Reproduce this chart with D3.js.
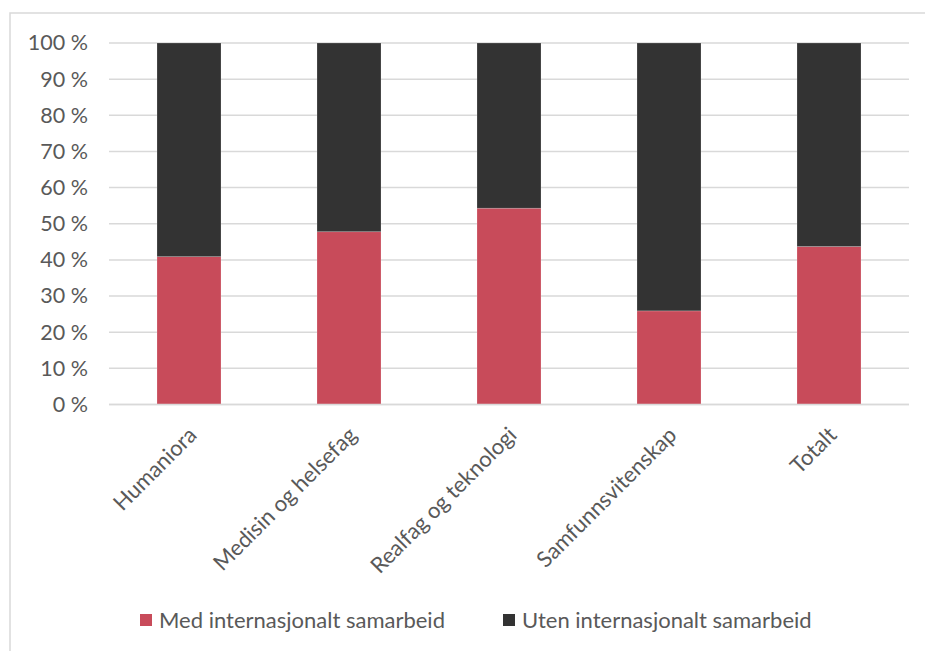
<!DOCTYPE html>
<html>
<head>
<meta charset="utf-8">
<script src="https://cdn.jsdelivr.net/npm/d3@7"></script>
<style>
  html, body { margin: 0; padding: 0; background: #fff; }
  svg { display: block; font-family: Lato, "Open Sans", sans-serif; }
</style>
</head>
<body>
<svg id="chart" width="925" height="651"></svg>
<script>
// Share of publications with / without international collaboration, by field
const categories = ["Humaniora", "Medisin og helsefag", "Realfag og teknologi", "Samfunnsvitenskap", "Totalt"];
const medInternasjonalt = [40.9, 47.8, 54.3, 25.9, 43.7];
const utenInternasjonalt = medInternasjonalt.map(v => 100 - v);
const seriesNames = ["Med internasjonalt samarbeid", "Uten internasjonalt samarbeid"];
const seriesColors = ["#C84B5A", "#333333"];
const yTicks = [0, 10, 20, 30, 40, 50, 60, 70, 80, 90, 100];

const svg = d3.select("#chart");
const textColor = "#595959";
const fontSize = "22px";

// Chart frame
svg.append("rect")
  .attr("x", 10).attr("y", 13)
  .attr("width", 930).attr("height", 660)
  .attr("fill", "none")
  .attr("stroke", "#D9D9D9")
  .attr("stroke-width", 1.5);

const plot = { left: 109, right: 909, top: 43, bottom: 404.5 };

const x = d3.scaleBand()
  .domain(categories)
  .range([plot.left, plot.right])
  .paddingInner(0.6)
  .paddingOuter(0.3);

const y = d3.scaleLinear()
  .domain([0, 100])
  .range([plot.bottom, plot.top]);

// Horizontal gridlines
svg.append("g")
  .selectAll("line")
  .data(yTicks)
  .join("line")
  .attr("x1", plot.left).attr("x2", plot.right)
  .attr("y1", d => y(d)).attr("y2", d => y(d))
  .attr("stroke", "#D9D9D9")
  .attr("stroke-width", 1.5);

// Y axis labels
const yAxis = d3.axisLeft(y)
  .tickValues(yTicks)
  .tickSize(0)
  .tickPadding(0)
  .tickFormat(d => d + "\u00A0%");
svg.append("g")
  .attr("transform", `translate(${plot.left - 21},0)`)
  .call(yAxis)
  .call(g => g.select(".domain").remove())
  .call(g => g.selectAll("text")
    .attr("fill", textColor)
    .style("font-size", "21.5px")
    .style("font-family", "Lato, sans-serif"));

// Stacked bars
const rows = categories.map((c, i) => ({
  category: c,
  med: medInternasjonalt[i],
  uten: utenInternasjonalt[i]
}));
const stack = d3.stack().keys(["med", "uten"]);
const layers = stack(rows);

svg.append("g")
  .selectAll("g")
  .data(layers)
  .join("g")
  .attr("fill", (d, i) => seriesColors[i])
  .selectAll("rect")
  .data(d => d)
  .join("rect")
  .attr("x", d => x(d.data.category))
  .attr("width", x.bandwidth())
  .attr("y", d => y(d[1]))
  .attr("height", d => y(d[0]) - y(d[1]))
  .attr("stroke", "rgba(255,255,255,0.25)")
  .attr("stroke-width", 0.75);

// Baseline
svg.append("line")
  .attr("x1", plot.left).attr("x2", plot.right)
  .attr("y1", y(0)).attr("y2", y(0))
  .attr("stroke", "#D9D9D9")
  .attr("stroke-width", 1.5);

// Rotated category labels
const xAxis = d3.axisBottom(x).tickSize(0).tickPadding(0);
svg.append("g")
  .attr("transform", `translate(0,${plot.bottom})`)
  .call(xAxis)
  .call(g => g.select(".domain").remove())
  .call(g => g.selectAll("text")
    .attr("fill", textColor)
    .style("font-size", fontSize)
    .style("font-family", "Lato, sans-serif")
    .attr("text-anchor", "end")
    .attr("dy", null)
    .attr("y", null)
    .attr("transform", "translate(9,32) rotate(-45)"));

// Legend
const legendItems = [
  { name: seriesNames[0], color: seriesColors[0], x: 140 },
  { name: seriesNames[1], color: seriesColors[1], x: 503 }
];
const legend = svg.append("g");
const li = legend.selectAll("g")
  .data(legendItems)
  .join("g")
  .attr("transform", d => `translate(${d.x},614)`);
li.append("rect")
  .attr("width", 12).attr("height", 12)
  .attr("fill", d => d.color);
li.append("text")
  .attr("x", 19).attr("y", 14)
  .attr("fill", textColor)
  .style("font-size", fontSize)
  .text(d => d.name);
</script>
</body>
</html>
